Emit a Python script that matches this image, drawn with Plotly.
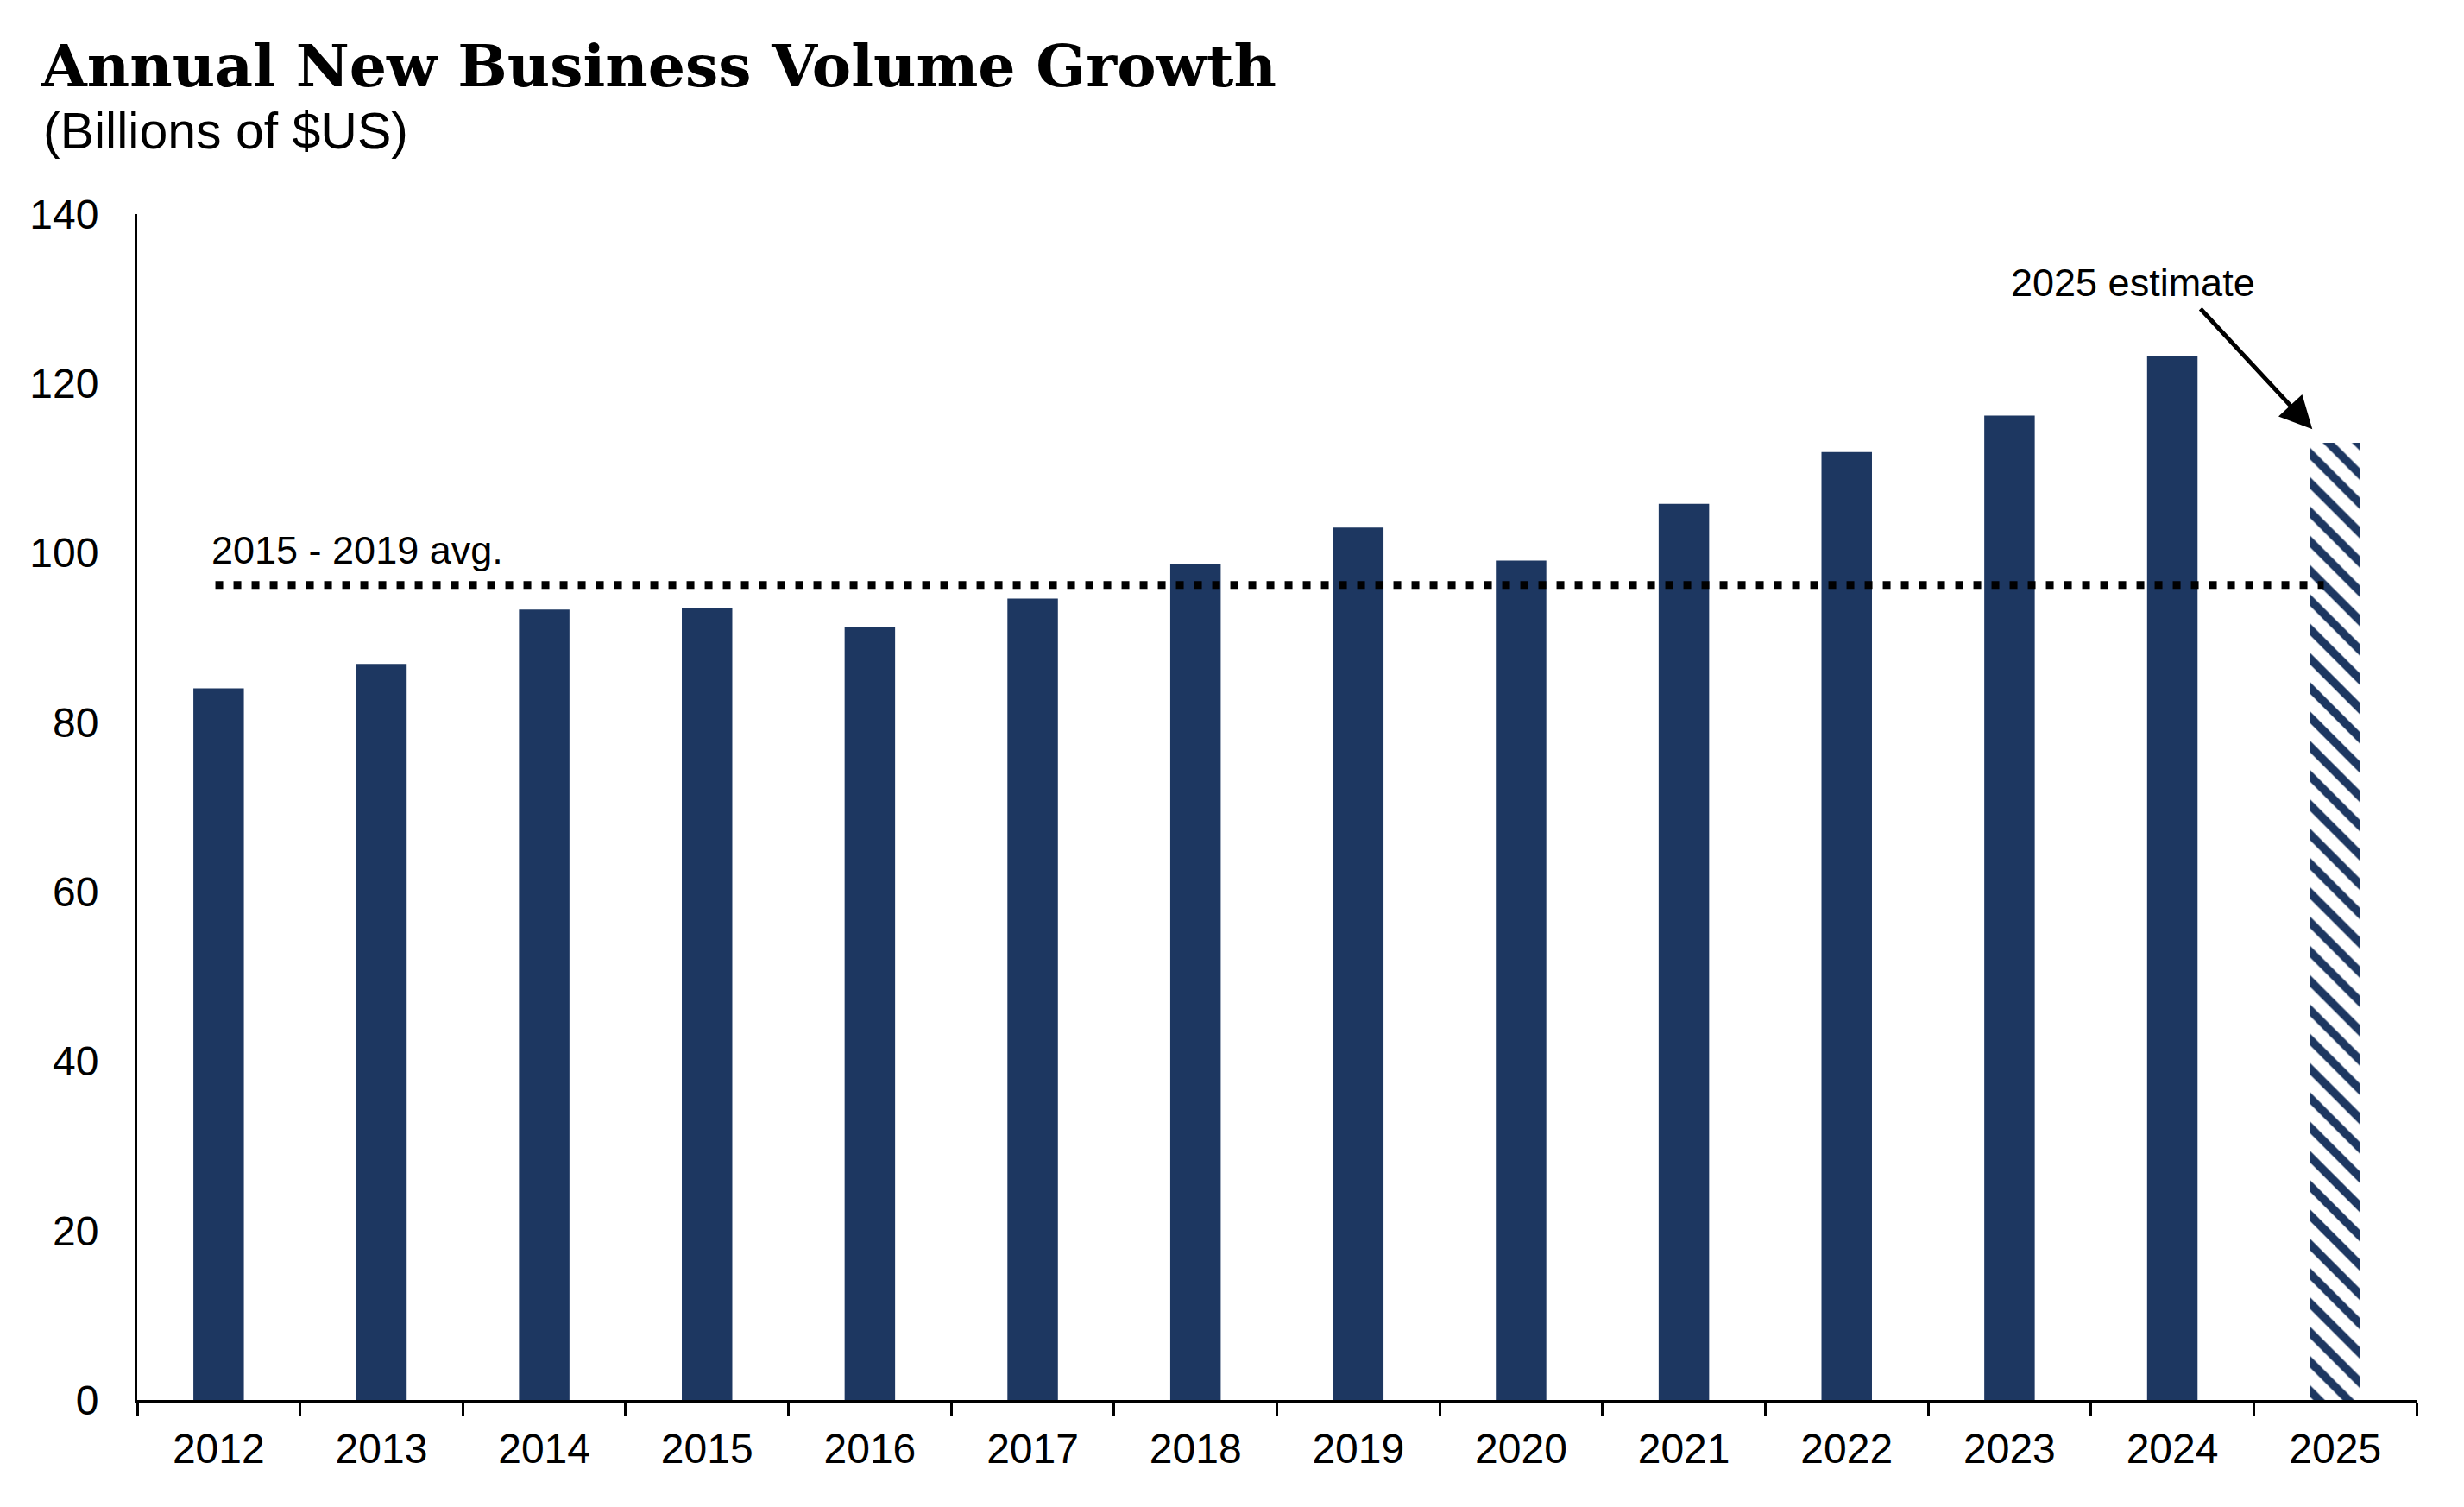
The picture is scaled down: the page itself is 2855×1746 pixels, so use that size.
import plotly.graph_objects as go

# Datos (miles de millones de USD)
YEARS = ["2012", "2013", "2014", "2015", "2016", "2017", "2018",
         "2019", "2020", "2021", "2022", "2023", "2024", "2025"]
VOLUME = [84.0, 86.9, 93.3, 93.5, 91.3, 94.6, 98.7,
          103.0, 99.1, 105.8, 111.9, 116.2, 123.3, 113.0]
ESTIMATE_YEAR = "2025"
AVG_YEARS = ["2015", "2016", "2017", "2018", "2019"]
Y_TICKS = [0, 20, 40, 60, 80, 100, 120, 140]

NAVY = "#1d3761"
SANS = "Liberation Sans, Arial, sans-serif"

actual_x = [y for y in YEARS if y != ESTIMATE_YEAR]
actual_y = [v for y, v in zip(YEARS, VOLUME) if y != ESTIMATE_YEAR]
est_y = [v for y, v in zip(YEARS, VOLUME) if y == ESTIMATE_YEAR]
avg_vals = [v for y, v in zip(YEARS, VOLUME) if y in AVG_YEARS]
avg = sum(avg_vals) / len(avg_vals)

fig = go.Figure()

fig.add_trace(go.Bar(
    x=actual_x, y=actual_y,
    width=0.31,
    marker=dict(color=NAVY, line=dict(width=0)),
    showlegend=False,
))

# barra estimada con rayado
fig.add_trace(go.Bar(
    x=[ESTIMATE_YEAR], y=est_y,
    width=0.31,
    marker=dict(
        color=NAVY,
        line=dict(width=0),
        pattern=dict(shape="\\", fgcolor=NAVY, bgcolor="white",
                     size=24, solidity=0.4, fillmode="replace"),
    ),
    showlegend=False,
))

# promedio 2015-2019 (linea punteada)
fig.add_shape(
    type="line", xref="x", yref="y",
    x0=-0.02, x1=12.93, y0=avg, y1=avg,
    line=dict(color="black", width=9, dash="9px,12px"),
)

fig.add_annotation(
    x=-0.055, y=100.3, xref="x", yref="y",
    text="2015 - 2019 avg.", showarrow=False,
    xanchor="left", yanchor="middle",
    font=dict(family=SANS, size=45, color="black"),
)

fig.add_annotation(
    x=11.76, y=131.9, xref="x", yref="y",
    text="2025 estimate", showarrow=False,
    xanchor="center", yanchor="middle",
    font=dict(family=SANS, size=45, color="black"),
)

# flecha hacia la barra estimada
fig.add_annotation(
    x=12.86, y=114.6, xref="x", yref="y",
    ax=-131, ay=-141, axref="pixel", ayref="pixel",
    text="", showarrow=True,
    arrowhead=2, arrowsize=1.5, arrowwidth=5, arrowcolor="black",
)

fig.add_annotation(
    x=-0.042, y=1.07, xref="paper", yref="paper",
    text="(Billions of $US)", showarrow=False,
    xanchor="left", yanchor="middle",
    font=dict(family=SANS, size=59, color="black"),
)

fig.update_layout(
    title=dict(
        text="<b>Annual New Business Volume Growth</b>",
        x=0.0141, xref="container", xanchor="left",
        y=0.9607, yref="container", yanchor="middle",
        font=dict(family="DejaVu Serif, Georgia, serif", size=68, color="black"),
    ),
    barmode="overlay",
    plot_bgcolor="white",
    paper_bgcolor="white",
    # la pagina tiene 8px de margen en el body
    width=2839, height=1730,
    margin=dict(l=151, r=47, t=240, b=116),
    font=dict(family=SANS, color="black"),
)

fig.update_xaxes(
    type="category",
    showgrid=False,
    showline=True, linecolor="black", linewidth=3,
    ticks="outside", tickson="boundaries", ticklen=16, tickwidth=3,
    tickcolor="black",
    tickfont=dict(family=SANS, size=48, color="black"),
    ticklabelstandoff=12,
)

fig.update_yaxes(
    range=[0, 140],
    tickvals=Y_TICKS,
    showgrid=False, zeroline=False,
    showline=True, linecolor="black", linewidth=3,
    ticks="",
    tickfont=dict(family=SANS, size=48, color="black"),
    ticklabelstandoff=32,
)

fig.write_html("out.html")
